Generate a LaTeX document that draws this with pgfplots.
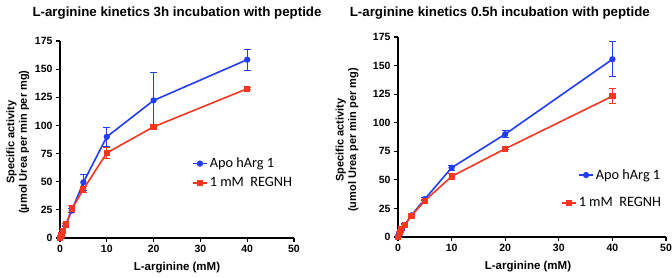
\documentclass[border=0pt]{standalone}
\usepackage{fontspec}
\setmainfont{Liberation Sans}
\newfontfamily\calibri{Carlito}
\usepackage{pgfplots}
\pgfplotsset{compat=1.18}
\definecolor{myblue}{RGB}{35,60,245}
\definecolor{myred}{RGB}{248,55,35}
\pgfplotsset{
  mystyle/.style={
    scale only axis,
    axis x line=bottom, axis y line=left,
    axis line style={-, line width=1.5pt},
    tick style={line width=1.2pt, black},
    tick align=outside, major tick length=4pt,
    xmin=0, xmax=50, ymin=0, ymax=175,
    xtick={0,10,...,50}, ytick={0,25,...,175},
    clip=false,
    /pgf/number format/assume math mode=true,
    ticklabel style={font=\bfseries\fontsize{10.5}{12}\selectfont},
    title style={font=\bfseries\fontsize{13.3}{15}\selectfont, anchor=center},
    xlabel style={font=\bfseries\fontsize{11.5}{13}\selectfont, anchor=center},
    ylabel style={font=\bfseries\fontsize{11}{12.5}\selectfont, anchor=center, align=center, rotate=0},
    legend cell align=left,
    legend image code/.code={\draw[mark repeat=2,mark phase=2,#1] plot coordinates {(0pt,0pt) (7pt,0pt) (14pt,0pt)};},
  },
  bl/.style={color=myblue, line width=1.6pt, mark=*, mark size=2.3pt,
    error bars/.cd, y dir=both, y explicit, error bar style={line width=0.9pt},
    error mark options={rotate=90, mark size=3.5pt, line width=0.9pt}},
  rd/.style={color=myred, line width=1.6pt, mark=square*, mark size=2.3pt,
    error bars/.cd, y dir=both, y explicit, error bar style={line width=0.9pt},
    error mark options={rotate=90, mark size=3.5pt, line width=0.9pt}},
}
\begin{document}
\begin{tikzpicture}[x=1pt,y=1pt]
\path[use as bounding box] (0,0) rectangle (672,277);
% Left panel
\begin{axis}[mystyle, at={(60pt,39pt)}, anchor=south west, width=234pt, height=197pt,
  title={L-arginine kinetics 3h incubation with peptide},
  title style={at={(axis description cs:0.50,1.112)}},
  xlabel={L-arginine (mM)},
  xlabel style={at={(axis description cs:0.50,-0.152)}},
  ylabel={Specific activity\\(µmol Urea per min per mg)},
  ylabel style={at={(axis description cs:-0.180,0.487)}},
  legend style={at={(axis description cs:0.564,0.33)}, anchor=west, draw=none, fill=none,
    inner sep=0pt, font=\calibri\fontsize{14.3}{16}\selectfont, row sep=4pt, nodes={inner xsep=2pt}},
]
\addplot[bl] table[x=x,y=y,y error=e] {
x y e
0 0 0
0.3125 2.7 0.5
0.625 5.6 1
1.25 11.6 1.5
2.5 24.3 2
5 49.5 7
10 89.9 8.7
20 122.2 25
40 158.4 9.5
};
\addlegendentry{Apo hArg 1}
\addplot[rd] table[x=x,y=y,y error=e] {
x y e
0 0 0
0.3125 3 0.5
0.625 6 1
1.25 12 1
2.5 25.5 3
5 43.3 2.5
10 75.6 4.7
20 98.8 1.5
40 132.6 1
};
\addlegendentry{1 mM\ \ REGNH}
\end{axis}
% Right panel
\begin{axis}[mystyle, at={(398pt,40pt)}, anchor=south west, width=268pt, height=200pt,
  title={L-arginine kinetics 0.5h incubation with peptide},
  title style={at={(axis description cs:0.38,1.09)}},
  xlabel={L-arginine (mM)},
  xlabel style={at={(axis description cs:0.485,-0.15)}},
  ylabel={Specific activity\\(umol Urea per min per mg)},
  ylabel style={at={(axis description cs:-0.190,0.485)}},
  legend style={at={(axis description cs:0.672,0.31)}, anchor=west, draw=none, fill=none,
    inner sep=0pt, font=\calibri\fontsize{14.3}{16}\selectfont, nodes={inner xsep=2pt}},
]
\addplot[bl] table[x=x,y=y,y error=e] {
x y e
0 0 0
0.3125 2.5 0.5
0.625 6.1 0.8
1.25 10.5 1
2.5 18.9 1
5 33.2 1.2
10 60.6 2.2
20 90.0 2.9
40 155.5 15.2
};
\addlegendentry{Apo hArg 1}
\addplot[forget plot, rd] table[x=x,y=y,y error=e] {
x y e
0 0 0
0.3125 4.5 0.5
0.625 6.5 0.8
1.25 10.2 1
2.5 18.6 1
5 31.7 1.2
10 53.0 2.9
20 77.2 1
40 123.2 6.7
};
\end{axis}
% Right panel second legend entry
\begin{axis}[mystyle, hide axis, at={(398pt,40pt)}, anchor=south west, width=268pt, height=200pt,
  legend style={at={(axis description cs:0.608,0.17)}, anchor=west, draw=none, fill=none,
    inner sep=0pt, font=\calibri\fontsize{14.3}{16}\selectfont, nodes={inner xsep=2pt}},
]
\addlegendimage{rd}
\addlegendentry{1 mM\ \ REGNH}
\end{axis}
\end{tikzpicture}
\end{document}
